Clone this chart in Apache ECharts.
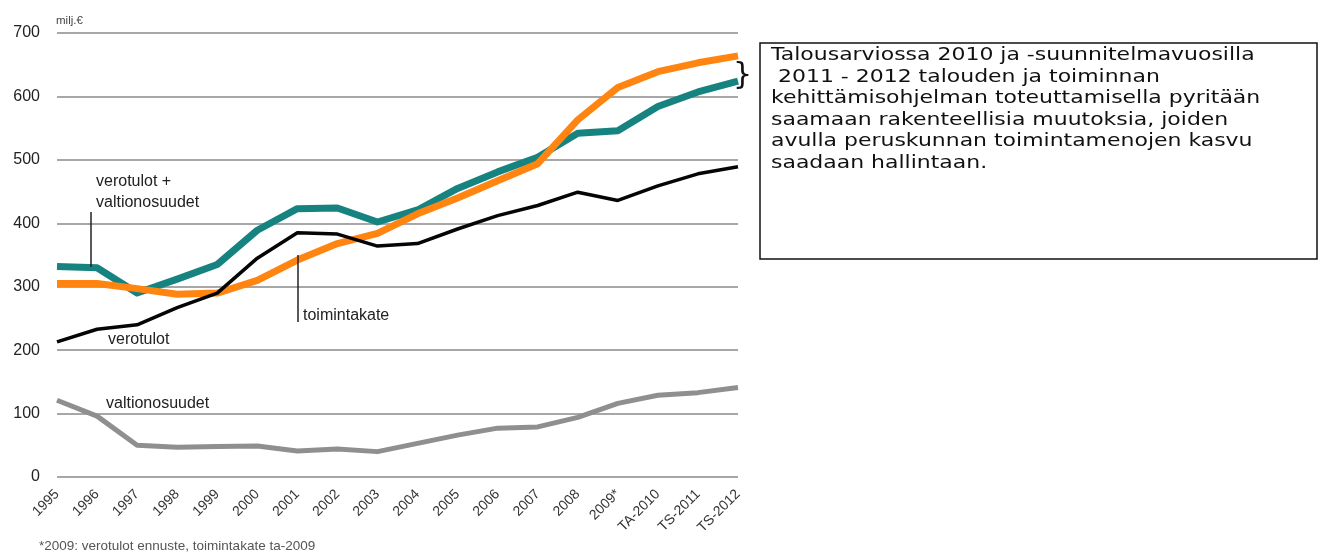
<!DOCTYPE html>
<html>
<head>
<meta charset="utf-8">
<script src="https://cdn.jsdelivr.net/npm/echarts@6/dist/echarts.min.js"></script>
<style>
    html, body { margin: 0; padding: 0; background: #fff; }
    #chart { width: 1322px; height: 553px; }
</style>
</head>
<body>
<div id="chart"></div>
<script>
const years = ['1995', '1996', '1997', '1998', '1999', '2000', '2001', '2002', '2003', '2004',
    '2005', '2006', '2007', '2008', '2009*', 'TA-2010', 'TS-2011', 'TS-2012'];

// milj. €
const verotulotJaValtionosuudet = [332, 330, 290, 312, 335, 389, 423, 424, 402, 421, 455, 481, 504, 542, 546, 584, 607, 624];
const toimintakate = [305, 305, 297, 288, 290, 310, 342, 368, 384, 415, 440, 467, 494, 563, 614, 639, 653, 664];
const verotulot = [213, 233, 240, 267, 290, 345, 385, 383, 364, 368, 391, 412, 428, 449, 436, 459, 478, 489];
const valtionosuudet = [121, 96, 50, 47, 48, 49, 41, 44, 40, 53, 66, 77, 79, 94, 116, 129, 133, 141];

const infoText = [
    'Talousarviossa 2010 ja -suunnitelmavuosilla',
    ' 2011 - 2012 talouden ja toiminnan',
    'kehittämisohjelman toteuttamisella pyritään',
    'saamaan rakenteellisia muutoksia, joiden',
    'avulla peruskunnan toimintamenojen kasvu',
    'saadaan hallintaan.'
];

const chart = echarts.init(document.getElementById('chart'));

const lineSeries = (name, data, color, width, z) => ({
    name, type: 'line', data,
    symbol: 'none', smooth: false,
    lineStyle: { color, width, cap: 'butt', join: 'round' },
    z, silent: true,
});

const FONT = 'Liberation Sans, Arial, sans-serif';
const labelStyle = { fontFamily: FONT, fontSize: 16, fill: '#222', verticalAlign: 'middle' };

chart.setOption({
    animation: false,
    backgroundColor: '#fff',
    grid: { top: 33, bottom: 76, left: 57, right: 584 },
    xAxis: {
        type: 'category', data: years, boundaryGap: false,
        axisLine: { show: false }, axisTick: { show: false },
        axisLabel: {
            rotate: 45, interval: 0, margin: 15,
            fontFamily: FONT, fontSize: 14, color: '#333',
        },
        splitLine: { show: false },
    },
    yAxis: {
        type: 'value', min: 0, max: 700, interval: 100,
        axisLine: { show: false }, axisTick: { show: false },
        axisLabel: { margin: 17, fontFamily: FONT, fontSize: 16, color: '#222' },
        splitLine: { lineStyle: { color: '#8a8a8a', width: 1.5 } },
    },
    series: [
        lineSeries('valtionosuudet', valtionosuudet, '#8f8f8f', 5, 2),
        lineSeries('verotulot + valtionosuudet', verotulotJaValtionosuudet, '#168380', 7, 3),
        lineSeries('toimintakate', toimintakate, '#ff8410', 7, 4),
        lineSeries('verotulot', verotulot, '#050505', 3.5, 5),
    ],
    graphic: [
        // annotations, placed like in the original slide
        { type: 'text', x: 56, y: 21, style: { text: 'milj.€', fontFamily: FONT, fontSize: 11.5, fill: '#444', verticalAlign: 'middle' } },
        { type: 'text', x: 96, y: 171, style: { text: 'verotulot +\nvaltionosuudet', lineHeight: 21, ...labelStyle, verticalAlign: 'top' } },
        { type: 'line', shape: { x1: 91, y1: 212, x2: 91, y2: 267 }, style: { stroke: '#222', lineWidth: 1.5 }, z: 10 },
        { type: 'text', x: 303, y: 316, style: { text: 'toimintakate', ...labelStyle } },
        { type: 'line', shape: { x1: 298, y1: 255, x2: 298, y2: 322 }, style: { stroke: '#222', lineWidth: 1.5 }, z: 10 },
        { type: 'text', x: 108, y: 340, style: { text: 'verotulot', ...labelStyle } },
        { type: 'text', x: 106, y: 404, style: { text: 'valtionosuudet', ...labelStyle } },
        { type: 'text', x: 39, y: 546, style: { text: '*2009: verotulot ennuste, toimintakate ta-2009', fontFamily: FONT, fontSize: 13.5, fill: '#555', verticalAlign: 'middle' } },
        { type: 'text', x: 733, y: 76, style: { text: '}', fontFamily: 'DejaVu Sans', fontSize: 30, fill: '#111', verticalAlign: 'middle' } },
        {
            type: 'rect', shape: { x: 760, y: 43, width: 557, height: 216 },
            style: { fill: '#fff', stroke: '#111', lineWidth: 1.5 },
        },
        {
            type: 'text', x: 771, y: 45, scaleX: 1.22,
            style: { text: infoText.join('\n'), fontFamily: 'DejaVu Sans', fontSize: 18, lineHeight: 21.5, fill: '#111' },
        },
    ],
});
</script>
</body>
</html>
